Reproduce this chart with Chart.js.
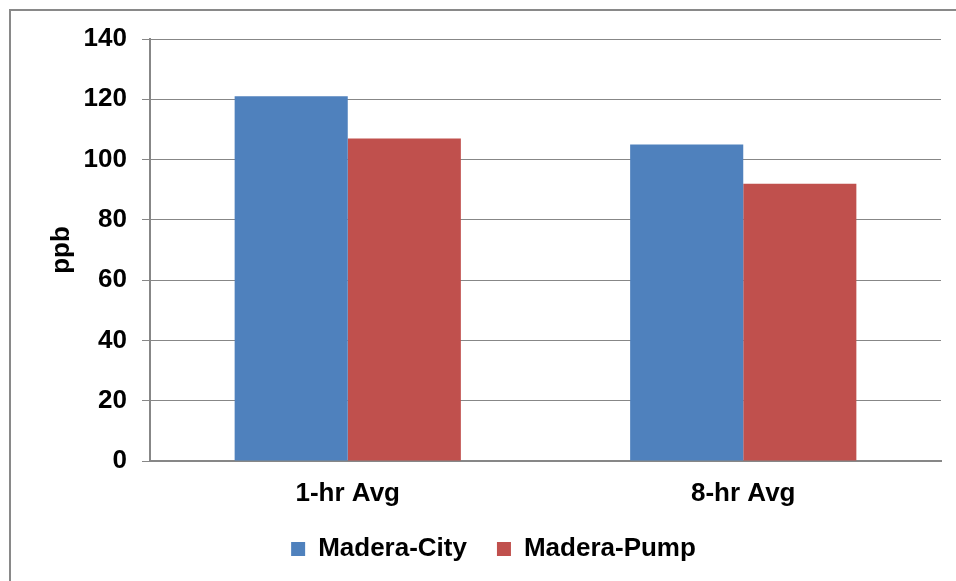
<!DOCTYPE html>
<html>
<head>
<meta charset="utf-8">
<script src="https://cdn.jsdelivr.net/npm/chart.js@4"></script>
<style>
html,body{margin:0;padding:0;background:#fff;}
#wrap{width:956px;height:581px;position:relative;}
</style>
</head>
<body>
<div id="wrap"><canvas id="c" width="956" height="581"></canvas></div>
<script>
const categories = ["1-hr Avg", "8-hr Avg"];
const maderaCity = [121, 105];
const maderaPump = [107, 92];
const seriesNames = ["Madera-City", "Madera-Pump"];
const yTicks = [0, 20, 40, 60, 80, 100, 120, 140];

const FONT = "'Liberation Sans', Arial, Helvetica, sans-serif";

const frame = {
  id: 'frame',
  beforeDraw(chart) {
    const ctx = chart.ctx;
    ctx.save();
    ctx.fillStyle = '#fff';
    ctx.fillRect(0, 0, chart.width, chart.height);
    ctx.strokeStyle = '#898989';
    ctx.lineWidth = 2;
    ctx.beginPath();
    ctx.moveTo(10, chart.height);
    ctx.lineTo(10, 10);
    ctx.lineTo(chart.width, 10);
    ctx.stroke();
    ctx.restore();
  }
};

new Chart(document.getElementById('c'), {
  type: 'bar',
  data: {
    labels: categories,
    datasets: [
      { label: seriesNames[0], data: maderaCity, backgroundColor: '#4F81BD', borderWidth: 0 },
      { label: seriesNames[1], data: maderaPump, backgroundColor: '#C0504D', borderWidth: 0 }
    ]
  },
  options: {
    responsive: false,
    animation: false,
    devicePixelRatio: 1,
    layout: { padding: { left: 46, right: 15, top: 39, bottom: 9 } },
    datasets: { bar: { categoryPercentage: 0.572, barPercentage: 1.0 } },
    scales: {
      x: {
        grid: { display: false, drawTicks: false },
        border: { display: true, color: '#878787', width: 2 },
        ticks: { color: '#000', font: { family: FONT, size: 26, weight: 'bold', lineHeight: 1.2 }, padding: 17 },
        afterFit(scale) { scale.height = 45; }
      },
      y: {
        min: 0, max: 140,
        afterBuildTicks(scale) { scale.ticks = yTicks.map(v => ({ value: v })); },
        grid: { color: '#878787', lineWidth: 1, tickLength: 8, drawTicks: true },
        border: { display: true, color: '#878787', width: 2 },
        ticks: { color: '#000', font: { family: FONT, size: 26, weight: 'bold', lineHeight: 1.2 }, padding: 15 },
        title: { display: true, text: 'ppb', color: '#000', font: { family: FONT, size: 26, weight: 'bold', lineHeight: 1.2 }, padding: { top: 0, bottom: 0 } },
        afterFit(scale) { scale.width = 104; }
      }
    },
    plugins: {
      legend: {
        position: 'bottom',
        labels: {
          color: '#000',
          boxWidth: 14, boxHeight: 14,
          padding: 30,
          font: { family: FONT, size: 26, weight: 'bold', lineHeight: 1.2 }
        }
      },
      tooltip: { enabled: false }
    }
  },
  plugins: [frame]
});
</script>
</body>
</html>
